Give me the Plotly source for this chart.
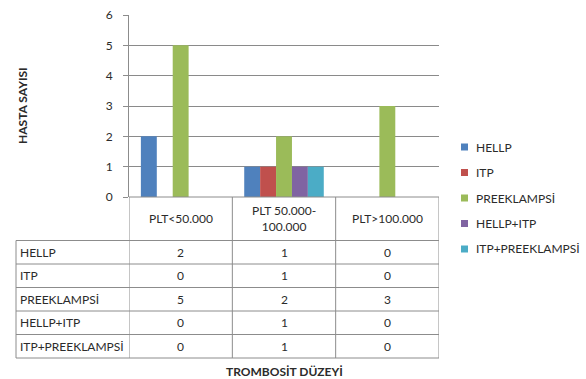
import plotly.graph_objects as go

# Platelet-level groups and patient counts per diagnosis
categories = ["PLT<50.000", "PLT 50.000-100.000", "PLT>100.000"]
category_labels = ["PLT<50.000", "PLT 50.000-<br>100.000", "PLT>100.000"]
series_names = ["HELLP", "ITP", "PREEKLAMPSİ", "HELLP+ITP", "ITP+PREEKLAMPSİ"]
hellp = [2, 1, 0]
itp = [0, 1, 0]
preeklampsi = [5, 2, 3]
hellp_itp = [0, 1, 0]
itp_preeklampsi = [0, 1, 0]
y_ticks = [0, 1, 2, 3, 4, 5, 6]

series_values = [hellp, itp, preeklampsi, hellp_itp, itp_preeklampsi]
colors = ["#4F81BD", "#C0504D", "#9BBB59", "#8064A2", "#4BACC6"]

W, H = 586, 379
L, R, T, B = 129, 147, 15, 182
plot_w = W - L - R
plot_h = H - T - B

FONT = "Lato, 'Open Sans', sans-serif"
TXT = "#2b2b2b"
GRID = "#8a8a8a"
LINE = "#8c8c8c"


def py(px_below_axis):
    """Paper y for a distance (px) below the x axis."""
    return -px_below_axis / plot_h


def py_abs(px):
    """Paper y for an absolute pixel row."""
    return (T + plot_h - px) / plot_h


def px_x(px):
    """Paper x for an absolute pixel column."""
    return (px - L) / plot_w


fig = go.Figure()

for name, vals, col in zip(series_names, series_values, colors):
    fig.add_trace(go.Bar(x=categories, y=vals, name=name, marker_color=col,
                         marker_line_width=0, showlegend=False))

# data table geometry (px)
header_h = 43.5
row_h = 23.5
table_left = 16
n_rows = len(series_names)

shapes = []
line_style = dict(color=LINE, width=1)
# horizontal rules of the data table
for i in range(n_rows + 1):
    yy = py(header_h + i * row_h)
    shapes.append(dict(type="line", xref="paper", yref="paper",
                       x0=px_x(table_left), x1=1, y0=yy, y1=yy, line=line_style))
# x-axis baseline / top of category row
shapes.append(dict(type="line", xref="paper", yref="paper",
                   x0=0, x1=1, y0=0, y1=0, line=line_style))
table_bottom = py(header_h + n_rows * row_h)
# vertical rules between category columns
for k in range(len(categories) + 1):
    shapes.append(dict(type="line", xref="x", yref="paper",
                       x0=k - 0.5, x1=k - 0.5, y0=0, y1=table_bottom, line=line_style))
# left edge of the row-label column
shapes.append(dict(type="line", xref="paper", yref="paper",
                   x0=px_x(table_left), x1=px_x(table_left),
                   y0=py(header_h), y1=table_bottom, line=line_style))

annotations = []
# category header cells
for k, lab in enumerate(category_labels):
    annotations.append(dict(x=k, y=py(header_h / 2), xref="x", yref="paper",
                            text=lab, showarrow=False, xanchor="center", yanchor="middle",
                            font=dict(family=FONT, size=12, color=TXT)))
# row labels and values
for i, (name, vals) in enumerate(zip(series_names, series_values)):
    yc = py(header_h + (i + 0.5) * row_h)
    annotations.append(dict(x=px_x(table_left + 2), y=yc, xref="paper", yref="paper",
                            text=name, showarrow=False, xanchor="left", yanchor="middle",
                            font=dict(family=FONT, size=12, color=TXT)))
    for k, v in enumerate(vals):
        annotations.append(dict(x=k, y=yc, xref="x", yref="paper", text=str(v),
                                showarrow=False, xanchor="center", yanchor="middle",
                                font=dict(family=FONT, size=12, color=TXT)))

# legend: small colour keys with the series names
legend_first_px = 147
legend_step_px = 25.5
key_x0, key_size, label_x = 461, 7, 474
for i, (name, col) in enumerate(zip(series_names, colors)):
    yc_px = legend_first_px + i * legend_step_px
    shapes.append(dict(type="rect", xref="paper", yref="paper",
                       x0=px_x(key_x0), x1=px_x(key_x0 + key_size),
                       y0=py_abs(yc_px - key_size / 2), y1=py_abs(yc_px + key_size / 2),
                       fillcolor=col, line=dict(width=0)))
    annotations.append(dict(x=px_x(label_x), y=py_abs(yc_px), xref="paper", yref="paper",
                            text=name, showarrow=False, xanchor="left", yanchor="middle",
                            font=dict(family=FONT, size=12, color=TXT)))

# axis titles
annotations.append(dict(x=0.5, y=py(174), xref="paper", yref="paper",
                        text="<b>TROMBOSİT DÜZEYİ</b>", showarrow=False,
                        xanchor="center", yanchor="middle",
                        font=dict(family=FONT, size=12, color=TXT)))
annotations.append(dict(x=px_x(22), y=0.5, xref="paper", yref="paper",
                        text="<b>HASTA SAYISI</b>", showarrow=False, textangle=-90,
                        xanchor="center", yanchor="middle",
                        font=dict(family=FONT, size=12, color=TXT)))

fig.update_layout(
    width=W, height=H,
    margin=dict(l=L, r=R, t=T, b=B, pad=0, autoexpand=False),
    paper_bgcolor="white", plot_bgcolor="white",
    barmode="group", bargap=0.23, bargroupgap=0,
    showlegend=False,
    shapes=shapes, annotations=annotations,
    font=dict(family=FONT, size=12, color=TXT),
    xaxis=dict(type="category", range=[-0.5, 2.5], showticklabels=False,
               showgrid=False, zeroline=False, showline=False, ticks="", fixedrange=True),
    yaxis=dict(range=[0, 6], tickvals=y_ticks, showgrid=True, gridcolor=GRID, gridwidth=1,
               zeroline=False, showline=True, linecolor=LINE, linewidth=1,
               ticks="outside", ticklen=5, tickcolor=LINE, ticklabelstandoff=8,
               tickfont=dict(family=FONT, size=12, color=TXT)),
)

fig.write_html("out.html")
